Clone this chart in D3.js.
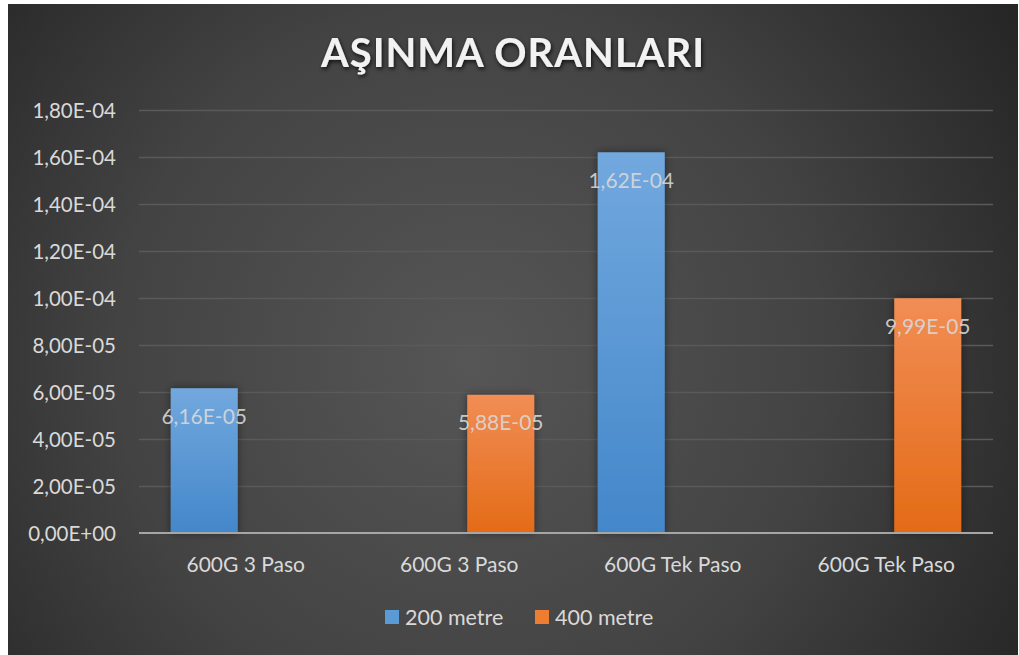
<!DOCTYPE html>
<html>
<head>
<meta charset="utf-8">
<script src="https://cdn.jsdelivr.net/npm/d3@7/dist/d3.min.js"></script>
<style>
  html, body { margin: 0; padding: 0; background: #ffffff; }
  svg { display: block; }
</style>
</head>
<body>
<script>
// Wear-rate data: two sliding distances per sample
const categories = ["600G 3 Paso", "600G 3 Paso", "600G Tek Paso", "600G Tek Paso"];
const seriesNames = ["200 metre", "400 metre"];
const values200 = [6.16e-5, null, 1.62e-4, null];
const values400 = [null, 5.88e-5, null, 9.99e-5];
const yTickValues = [0, 2e-5, 4e-5, 6e-5, 8e-5, 1e-4, 1.2e-4, 1.4e-4, 1.6e-4, 1.8e-4];
const chartTitle = "AŞINMA ORANLARI";

const W = 1019, H = 655;
const margin = { left: 139, right: 26, top: 110, bottom: 122 };
const font = "Lato, 'Open Sans', sans-serif";

const svg = d3.select("body").append("svg").attr("width", W).attr("height", H);
const defs = svg.append("defs");

// background radial gradient
const bg = defs.append("radialGradient").attr("id", "bg")
  .attr("gradientUnits", "userSpaceOnUse")
  .attr("cx", 470).attr("cy", 360).attr("r", 640);
bg.append("stop").attr("offset", "0%").attr("stop-color", "#565656");
bg.append("stop").attr("offset", "55%").attr("stop-color", "#434343");
bg.append("stop").attr("offset", "100%").attr("stop-color", "#262626");

const gradBlue = defs.append("linearGradient").attr("id", "gBlue").attr("x1", 0).attr("y1", 0).attr("x2", 0).attr("y2", 1);
gradBlue.append("stop").attr("offset", "0%").attr("stop-color", "#72a8de");
gradBlue.append("stop").attr("offset", "100%").attr("stop-color", "#4387ca");
const gradOrange = defs.append("linearGradient").attr("id", "gOrange").attr("x1", 0).attr("y1", 0).attr("x2", 0).attr("y2", 1);
gradOrange.append("stop").attr("offset", "0%").attr("stop-color", "#f18d55");
gradOrange.append("stop").attr("offset", "100%").attr("stop-color", "#e46b17");

const shadow = defs.append("filter").attr("id", "barShadow")
  .attr("x", "-30%").attr("y", "-10%").attr("width", "160%").attr("height", "120%");
shadow.append("feDropShadow").attr("dx", 0).attr("dy", 0).attr("stdDeviation", 4)
  .attr("flood-color", "#000").attr("flood-opacity", 0.45);

const titleShadow = defs.append("filter").attr("id", "titleShadow")
  .attr("x", "-10%").attr("y", "-30%").attr("width", "120%").attr("height", "160%");
titleShadow.append("feDropShadow").attr("dx", 1).attr("dy", 2).attr("stdDeviation", 2)
  .attr("flood-color", "#000").attr("flood-opacity", 0.8);

svg.append("rect").attr("x", 8).attr("y", 4).attr("width", W - 9).attr("height", H - 4)
  .attr("fill", "url(#bg)");

const x0 = d3.scaleBand().domain(d3.range(categories.length))
  .range([margin.left, W - margin.right]);
const barW = 67, innerGap = 16;
const x1 = d3.scaleBand().domain(seriesNames)
  .range([-(barW + innerGap / 2), barW + innerGap / 2])
  .paddingInner(innerGap / (barW + innerGap));
const y = d3.scaleLinear().domain([0, 1.8e-4]).range([H - margin.bottom, margin.top]);

const fmt = v => {
  const s = v.toExponential(2).replace(".", ",");
  const m = s.match(/^(.*)e([+-])(\d+)$/);
  return m[1] + "E" + m[2] + m[3].padStart(2, "0");
};

// gridlines
const yAxis = d3.axisLeft(y).tickValues(yTickValues).tickFormat(fmt)
  .tickSize(-(W - margin.left - margin.right)).tickPadding(23);
const gy = svg.append("g").attr("transform", `translate(${margin.left},0)`).call(yAxis);
gy.select(".domain").remove();
gy.selectAll(".tick line").attr("stroke", "#5a5a5a").attr("stroke-width", 1.5)
  .filter(d => d === 0).remove();
gy.selectAll(".tick text").attr("fill", "#d9d9d9").attr("font-family", font)
  .attr("font-size", 20.5).attr("dy", "0.35em");

// bars
const series = [
  { name: seriesNames[0], values: values200, fill: "url(#gBlue)" },
  { name: seriesNames[1], values: values400, fill: "url(#gOrange)" }
];
const barData = [];
series.forEach(s => s.values.forEach((v, i) => {
  if (v != null) barData.push({ i, v, s });
}));

svg.append("g").selectAll("rect").data(barData).join("rect")
  .attr("x", d => x0(d.i) + x0.bandwidth() / 2 + x1(d.s.name))
  .attr("width", x1.bandwidth())
  .attr("y", d => y(d.v))
  .attr("height", d => y(0) - y(d.v))
  .attr("fill", d => d.s.fill)
  .attr("filter", "url(#barShadow)");

// baseline
svg.append("line").attr("x1", margin.left).attr("x2", W - margin.right)
  .attr("y1", y(0)).attr("y2", y(0)).attr("stroke", "#a6a6a6").attr("stroke-width", 2);

// data labels
svg.append("g").selectAll("text").data(barData).join("text")
  .attr("x", d => x0(d.i) + x0.bandwidth() / 2 + x1(d.s.name) + x1.bandwidth() / 2)
  .attr("y", d => y(d.v) + 28)
  .attr("dy", "0.35em")
  .attr("text-anchor", "middle")
  .attr("fill", "#d9d9d9").attr("fill-opacity", 0.9)
  .attr("font-family", font).attr("font-size", 21)
  .text(d => fmt(d.v));

// category labels
svg.append("g").selectAll("text").data(categories).join("text")
  .attr("x", (d, i) => x0(i) + x0.bandwidth() / 2)
  .attr("y", 565).attr("dy", "0.35em")
  .attr("text-anchor", "middle")
  .attr("fill", "#d9d9d9").attr("font-family", font).attr("font-size", 21)
  .text(d => d);

// title
svg.append("text").attr("x", 513).attr("y", 53).attr("dy", "0.35em")
  .attr("text-anchor", "middle").attr("fill", "#f2f2f2")
  .attr("font-family", font).attr("font-weight", "bold").attr("font-size", 40)
  .attr("letter-spacing", 1)
  .attr("filter", "url(#titleShadow)")
  .text(chartTitle);

// legend
const legend = svg.append("g");
const legendItems = [
  { name: seriesNames[0], color: "#5b9bd5", x: 385 },
  { name: seriesNames[1], color: "#ed7d31", x: 535 }
];
legendItems.forEach(it => {
  legend.append("rect").attr("x", it.x).attr("y", 610).attr("width", 14).attr("height", 14)
    .attr("fill", it.color);
  legend.append("text").attr("x", it.x + 20).attr("y", 617).attr("dy", "0.35em")
    .attr("fill", "#d9d9d9").attr("font-family", font).attr("font-size", 21.5)
    .text(it.name);
});
</script>
</body>
</html>
